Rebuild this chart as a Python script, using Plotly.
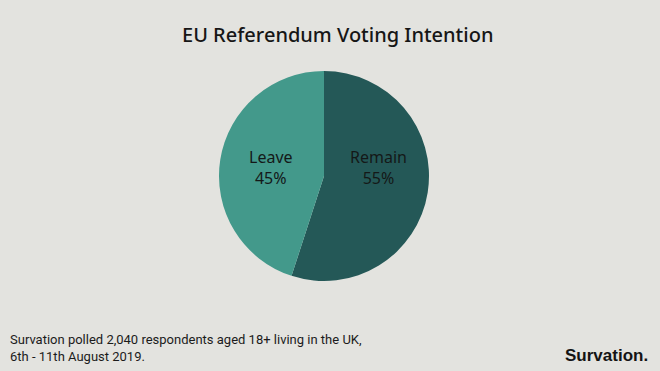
import plotly.graph_objects as go

labels = ["Remain", "Leave"]
values = [55, 45]
colors = ["#245857", "#43998b"]

title_text = "EU Referendum Voting Intention"
footer_lines = ["Survation polled 2,040 respondents aged 18+ living in the UK,",
                "6th - 11th August 2019."]
brand = "Survation."

W, H = 660, 371
bg = "#e3e3df"

fig = go.Figure(go.Pie(
    labels=labels, values=values, sort=False, direction="clockwise", rotation=0,
    marker=dict(colors=colors, line=dict(width=0)),
    textinfo="none", hoverinfo="label+percent", showlegend=False,
    domain=dict(x=[219 / W, 429 / W], y=[1 - 281 / H, 1 - 71 / H]),
))

# slice labels
label_pos = {"Remain": (378, 167), "Leave": (271, 167)}
total = sum(values)
annotations = []
for lab, val in zip(labels, values):
    px, py = label_pos[lab]
    annotations.append(dict(
        x=px / W, y=1 - py / H, xref="paper", yref="paper",
        text=f"{lab}<br>{round(val / total * 100)}%", showarrow=False,
        font=dict(family="Noto Sans", size=16, color="#141818"),
        align="center", xanchor="center", yanchor="middle"))

annotations.append(dict(
    x=337 / W, y=1 - 35 / H, xref="paper", yref="paper", text=title_text,
    showarrow=False, font=dict(family="Noto Sans", size=20, color="#161616", weight=500),
    xanchor="center", yanchor="middle"))

annotations.append(dict(
    x=8 / W, y=1 - 348 / H, xref="paper", yref="paper",
    text="<br>".join(footer_lines), showarrow=False, align="left",
    font=dict(family="Roboto", size=13, color="#1b1b1b"),
    xanchor="left", yanchor="middle"))

annotations.append(dict(
    x=650 / W, y=1 - 355 / H, xref="paper", yref="paper",
    text=f"<b>{brand}</b>", showarrow=False,
    font=dict(family="Liberation Sans", size=17, color="#141414"),
    xanchor="right", yanchor="middle"))

fig.update_layout(
    width=W, height=H, margin=dict(l=0, r=0, t=0, b=0),
    paper_bgcolor=bg, plot_bgcolor=bg, annotations=annotations)

fig.write_html("out.html")
